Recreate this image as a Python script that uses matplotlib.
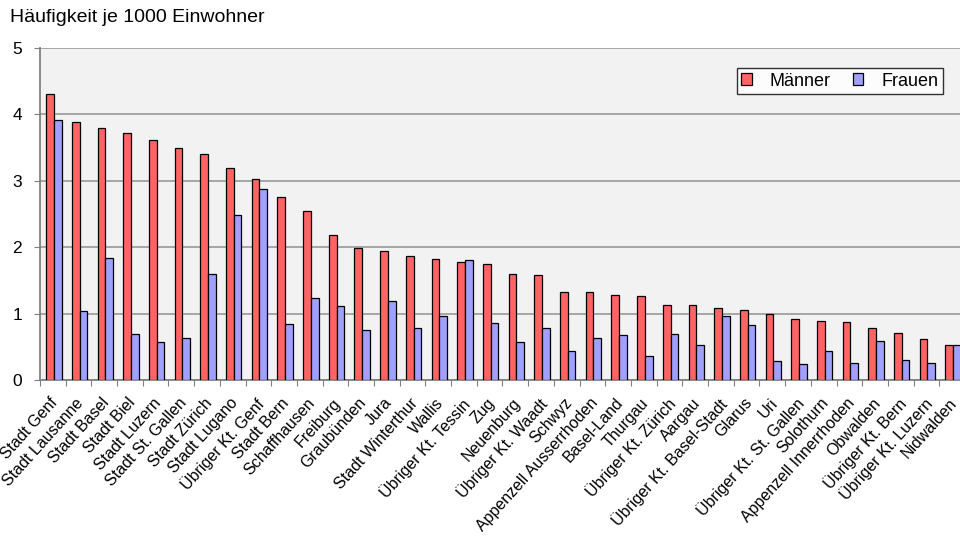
import matplotlib
matplotlib.use("Agg")
import matplotlib.pyplot as plt
import numpy as np

plt.rcParams['font.family'] = ['Liberation Sans', 'DejaVu Sans']

categories = ["Stadt Genf", "Stadt Lausanne", "Stadt Basel", "Stadt Biel", "Stadt Luzern",
              "Stadt St. Gallen", "Stadt Zürich", "Stadt Lugano", "Übriger Kt. Genf", "Stadt Bern",
              "Schaffhausen", "Freiburg", "Graubünden", "Jura", "Stadt Winterthur", "Wallis",
              "Übriger Kt. Tessin", "Zug", "Neuenburg", "Übriger Kt. Waadt", "Schwyz",
              "Appenzell Ausserrhoden", "Basel-Land", "Thurgau", "Übriger Kt. Zürich", "Aargau",
              "Übriger Kt. Basel-Stadt", "Glarus", "Uri", "Übriger Kt. St. Gallen", "Solothurn",
              "Appenzell Innerrhoden", "Obwalden", "Übriger Kt. Bern", "Übriger Kt. Luzern", "Nidwalden"]
maenner = [4.30, 3.89, 3.80, 3.72, 3.61, 3.49, 3.40, 3.19, 3.03, 2.76,
           2.55, 2.18, 1.99, 1.94, 1.86, 1.82, 1.78, 1.74, 1.60, 1.58,
           1.33, 1.32, 1.28, 1.26, 1.13, 1.13, 1.09, 1.05, 1.00, 0.92,
           0.89, 0.87, 0.79, 0.71, 0.62, 0.53]
frauen = [3.91, 1.04, 1.83, 0.70, 0.57, 0.64, 1.60, 2.48, 2.88, 0.85,
          1.23, 1.12, 0.75, 1.19, 0.79, 0.96, 1.81, 0.86, 0.57, 0.79,
          0.44, 0.64, 0.68, 0.36, 0.69, 0.52, 0.96, 0.83, 0.28, 0.24,
          0.43, 0.26, 0.58, 0.30, 0.26, 0.52]
yticks = [0, 1, 2, 3, 4, 5]

fig = plt.figure(figsize=(9.6, 5.41), dpi=100)
ax = fig.add_axes([40/960, (541-380)/541, 925/960, (380-48)/541])
ax.set_facecolor('#F2F2F2')

x = np.arange(len(categories))
w = 0.3
ax.bar(x - w/2 + 0.04, maenner, w, color='#FF6464', edgecolor='black', linewidth=0.9,
       label='Männer', zorder=3)
ax.bar(x + w/2 + 0.04, frauen, w, color='#A0A0FF', edgecolor='black', linewidth=0.9,
       label='Frauen', zorder=3)

ax.set_xlim(-0.5, len(categories) - 0.5)
ax.set_ylim(0, 5)
ax.set_yticks(yticks)
ax.set_yticklabels([str(t) for t in yticks], fontsize=12.5)
ax.yaxis.grid(True, color='#A0A0A0', linewidth=1.3, zorder=0)
ax.set_axisbelow(True)

ax.set_xticks(x - 0.5, minor=False)
ax.set_xticklabels([])
ax.set_xticks(x - 0.12, minor=True)
ax.set_xticklabels(categories, minor=True, rotation=48, ha='right',
                   rotation_mode='anchor', fontsize=11.5)
ax.tick_params(axis='x', which='minor', length=0, pad=11)
ax.tick_params(axis='x', which='major', length=4, color='#808080', direction='out')
ax.tick_params(axis='y', length=4, color='#808080', pad=9)

for s in ['top', 'right']:
    ax.spines[s].set_visible(False)
for s in ['left', 'bottom']:
    ax.spines[s].set_color('#808080')
    ax.spines[s].set_linewidth(1.3)

leg = ax.legend(loc='upper right', ncol=2, fontsize=13, frameon=True,
                fancybox=False, edgecolor='black', handlelength=0.6, handleheight=0.6,
                handletextpad=1.0, columnspacing=1.2, borderpad=0.25, borderaxespad=0)
leg.set_bbox_to_anchor((943/960, (541-68)/541), transform=fig.transFigure)
leg.get_frame().set_linewidth(1.0)

fig.text(10/960, 1 - 18/541, 'Häufigkeit je 1000 Einwohner', fontsize=14,
         va='center', ha='left')

fig.savefig('out.png', dpi=100)
